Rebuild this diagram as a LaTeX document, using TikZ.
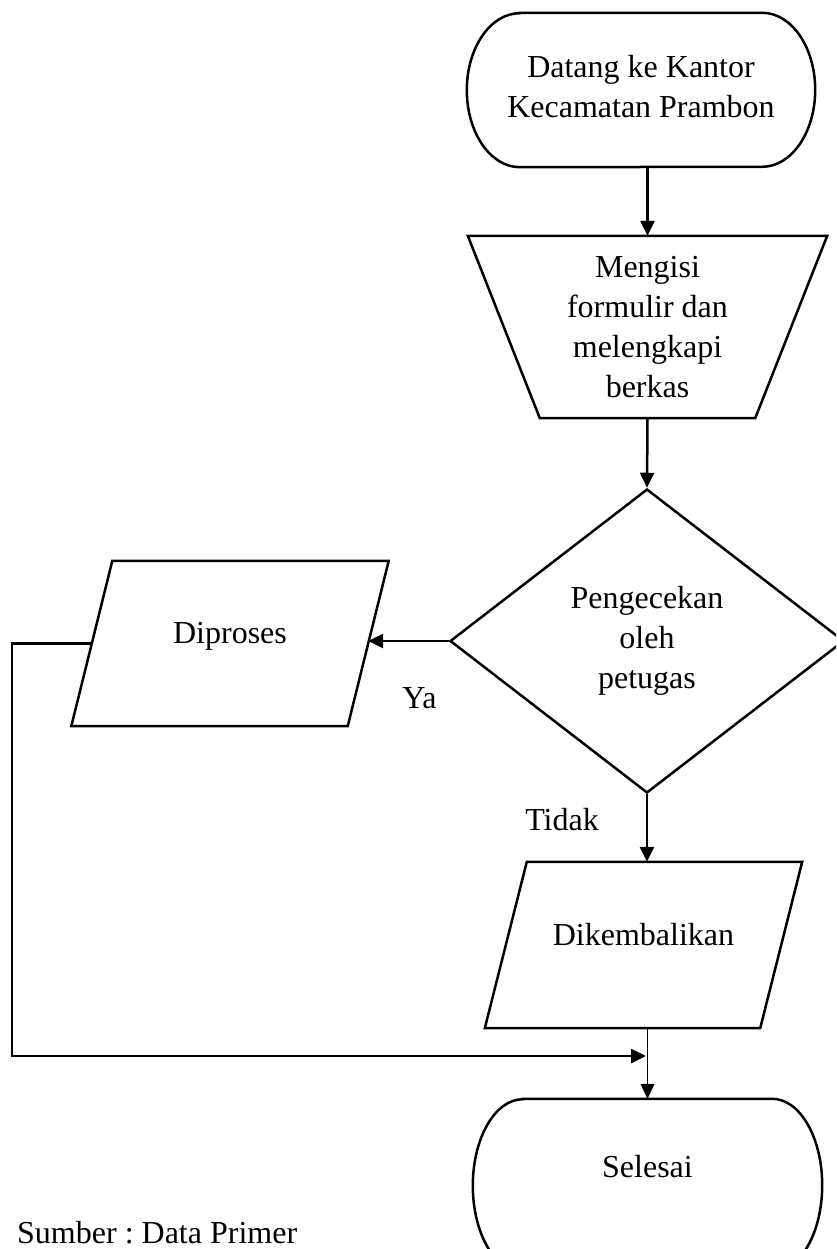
\documentclass[tikz,border=0pt]{standalone}
\usepackage{fontspec}
\setmainfont{Liberation Serif}
\usetikzlibrary{shapes.geometric,arrows.meta}
\frenchspacing

% stadium-like terminator: straight top/bottom, half-ellipse ends
\newcommand\termoutline[3]{%
  \draw[shapeline] ([xshift=#2]#1.north west) -- ([xshift=-#2]#1.north east)
    arc[start angle=90,end angle=-90,x radius=#2,y radius=#3]
    -- ([xshift=#2]#1.south west)
    arc[start angle=270,end angle=90,x radius=#2,y radius=#3] -- cycle;}
% parallelogram leaning right, built round a text node
\newcommand\slantoutline[2]{%
  \draw[shapeline] ([xshift=#2]#1.north west) -- ([xshift=#2]#1.north east)
    -- ([xshift=-#2]#1.south east) -- ([xshift=-#2]#1.south west) -- cycle;}
% trapezoid, wide side on top
\newcommand\trapoutline[2]{%
  \draw[shapeline] ([xshift=-#2]#1.north west) -- ([xshift=#2]#1.north east)
    -- ([xshift=-#2]#1.south east) -- ([xshift=#2]#1.south west) -- cycle;}

\tikzset{
  shapeline/.style={line width=2.5pt, line join=miter},
  arr/.style={line width=2.5pt, -{Triangle[length=15pt,width=14pt]}},
  thinarr/.style={line width=1.2pt, -{Triangle[length=15pt,width=14pt]}},
  box/.style={inner sep=0pt, align=center},
  oneline/.style={box, text height=22pt, text depth=22pt},
  lbl/.style={inner sep=0pt, anchor=base},
}

\begin{document}
\begin{tikzpicture}[x=1pt, y=-1pt, font=\fontsize{32}{40}\selectfont]
\useasboundingbox (0,0) rectangle (836,1249);
\clip (0,0) rectangle (836,1249);
\fill[white] (0,0) rectangle (836,1249);

% start
\node[box, minimum width=348pt, minimum height=154pt, text depth=8pt] (start) at (641,90)
  {Datang ke Kantor\\Kecamatan Prambon};
\termoutline{start}{53pt}{77pt}

% filling in the form
\node[box, minimum width=287pt, minimum height=182pt] (trap) at (647.5,327)
  {Mengisi\\formulir dan\\melengkapi\\berkas};
\trapoutline{trap}{36pt}

% check
\node[box, shape=diamond, draw, line width=2.5pt, minimum width=394pt, minimum height=304pt] (dia) at (647,641)
  {Pengecekan\\oleh\\petugas};

% accepted
\node[oneline, minimum width=276pt, minimum height=165pt] (dip) at (230,643.5) {Diproses};
\slantoutline{dip}{20.5pt}

% returned
\node[oneline, minimum width=275pt, minimum height=166pt] (dik) at (643.5,945) {Dikembalikan};
\slantoutline{dik}{21pt}

% end
\node[box, minimum width=349pt, minimum height=173pt, text height=22pt, text depth=39pt] (sel) at (647.5,1185.5) {Selesai};
\termoutline{sel}{50pt}{86.5pt}

% branch labels and source note
\node[lbl] (ya) at (419.5,708) {Ya};
\node[lbl] (tidak) at (562,830) {Tidak};
\node[lbl, anchor=base west] (src) at (17,1243) {Sumber : Data Primer};

% connectors
\coordinate (bend) at (12,643.5);
\coordinate (join) at (646,1056);
\draw[arr] (start.south -| trap.north) -- (trap.north);
\draw[arr] (trap.south) -- (dia.north);
\draw[arr] (dia.west) -- (dia.west -| dip.east);
\draw[arr] (dia.south) -- (dia.south |- dik.north);
\draw[thinarr] (dik.south -| sel.north) -- (sel.north);
\draw[arr, line join=miter] (dip.west) -- (bend) |- (join);
\end{tikzpicture}
\end{document}
